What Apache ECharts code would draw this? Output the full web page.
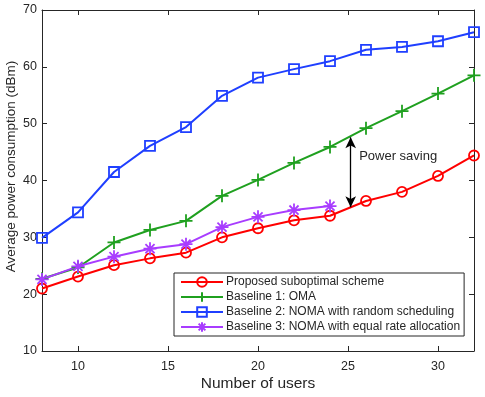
<!DOCTYPE html>
<html>
<head>
<meta charset="utf-8">
<script src="https://cdn.jsdelivr.net/npm/echarts@6/dist/echarts.min.js"></script>
<style>
  html, body { margin: 0; padding: 0; background: #fff; }
  #chart { width: 485px; height: 397px; }
</style>
</head>
<body>
<div id="chart"></div>
<script>
// number of users
const users = [8, 10, 12, 14, 16, 18, 20, 22, 24, 26, 28, 30, 32]
const usersB3 = [8, 10, 12, 14, 16, 18, 20, 22, 24]

const proposed = [21.0, 23.1, 25.1, 26.3, 27.3, 30.0, 31.6, 33.0, 33.8, 36.4, 38.0, 40.8, 44.4]
const oma = [22.7, 24.7, 29.1, 31.3, 32.9, 37.3, 40.1, 43.1, 45.9, 49.2, 52.2, 55.3, 58.5]
const nomaRandom = [29.9, 34.4, 41.5, 46.1, 49.4, 54.9, 58.1, 59.6, 61.0, 63.0, 63.5, 64.5, 66.1]
const nomaEqual = [22.6, 24.9, 26.6, 28.0, 28.8, 31.8, 33.6, 34.8, 35.5]

const xTicks = [10, 15, 20, 25, 30]

// annotation: arrow between OMA and proposed at ~25 users
const arrowX = 25.15
const arrowTop = 47.6
const arrowBottom = 35.3
const savingLabel = [25.62, 44.2]

const names = [
    'Proposed suboptimal scheme',
    'Baseline 1: OMA',
    'Baseline 2: NOMA with random scheduling',
    'Baseline 3: NOMA with equal rate allocation'
]

const textColor = '#262626'
const plusPath = 'path://M0,6L12,6M6,0L6,12'
const starPath = 'path://M0,6L12,6M6,0L6,12M1.8,1.8L10.2,10.2M1.8,10.2L10.2,1.8'

const pairs = (xs, ys) => ys.map((v, i) => [xs[i], v])

const makeSeries = (name, data, color, symbol, size) => ({
    name: name,
    type: 'line',
    data: data,
    symbol: symbol,
    symbolSize: size,
    lineStyle: { color: color, width: 2 },
    itemStyle: { color: 'rgba(0,0,0,0)', borderColor: color, borderWidth: 1.8 },
    emphasis: { disabled: true },
    z: 2
})

const chart = echarts.init(document.getElementById('chart'))

const redSeries = makeSeries(names[0], pairs(users, proposed), '#ff0000', 'circle', 10)
redSeries.markLine = {
    silent: true,
    symbol: ['arrow', 'arrow'],
    symbolSize: [8, 11],
    label: { show: false },
    lineStyle: { color: '#000', width: 1.3, type: 'solid' },
    data: [[{ coord: [arrowX, arrowTop] }, { coord: [arrowX, arrowBottom] }]]
}
redSeries.markPoint = {
    silent: true,
    symbol: 'circle',
    symbolSize: 0,
    label: {
        show: true,
        position: 'right',
        distance: 0,
        formatter: 'Power saving',
        color: textColor,
        fontSize: 13,
        fontFamily: 'Liberation Sans'
    },
    data: [{ coord: savingLabel }]
}

chart.setOption({
    animation: false,
    textStyle: { fontFamily: 'Liberation Sans' },
    grid: { left: 42, right: 11, top: 10, bottom: 46, outerBoundsMode: 'none', containLabel: false },
    legend: {
        orient: 'vertical',
        left: 174,
        top: 273,
        itemWidth: 42,
        itemHeight: 12,
        itemGap: 3,
        padding: [3, 4, 3, 6],
        backgroundColor: '#fff',
        borderColor: textColor,
        borderWidth: 1,
        borderRadius: 0,
        textStyle: { fontSize: 12, color: textColor, padding: [0, 0, 0, -2] },
        data: names
    },
    xAxis: [
        {
            type: 'value',
            min: 8,
            max: 32,
            name: 'Number of users',
            nameLocation: 'middle',
            nameGap: 25,
            nameMoveOverlap: false,
            nameTextStyle: { fontSize: 15.5, color: textColor },
            axisLine: { lineStyle: { color: textColor, width: 1 } },
            axisTick: { inside: true, length: 5, customValues: xTicks, lineStyle: { color: textColor } },
            axisLabel: { customValues: xTicks, fontSize: 12.5, color: textColor, margin: 9 },
            splitLine: { show: false }
        },
        {
            type: 'value',
            position: 'top',
            min: 8,
            max: 32,
            axisLine: { lineStyle: { color: textColor, width: 1 } },
            axisTick: { inside: true, length: 5, customValues: xTicks, lineStyle: { color: textColor } },
            axisLabel: { show: false },
            splitLine: { show: false }
        }
    ],
    yAxis: [
        {
            type: 'value',
            min: 10,
            max: 70,
            interval: 10,
            name: 'Average power consumption (dBm)',
            nameLocation: 'middle',
            nameGap: 24,
            nameMoveOverlap: false,
            nameTextStyle: { fontSize: 13.5, color: textColor, padding: [0, 0, 0, 28] },
            axisLine: { show: true, lineStyle: { color: textColor, width: 1 } },
            axisTick: { show: true, inside: true, length: 5, lineStyle: { color: textColor } },
            axisLabel: { fontSize: 12.5, color: textColor, margin: 5 },
            splitLine: { show: false }
        },
        {
            type: 'value',
            position: 'right',
            min: 10,
            max: 70,
            interval: 10,
            axisLine: { show: true, lineStyle: { color: textColor, width: 1 } },
            axisTick: { show: true, inside: true, length: 5, lineStyle: { color: textColor } },
            axisLabel: { show: false },
            splitLine: { show: false }
        }
    ],
    series: [
        redSeries,
        makeSeries(names[1], pairs(users, oma), '#1fa01f', plusPath, 13),
        makeSeries(names[2], pairs(users, nomaRandom), '#1f3fff', 'rect', 10),
        makeSeries(names[3], pairs(usersB3, nomaEqual), '#a83cff', starPath, 13)
    ]
})
</script>
</body>
</html>
